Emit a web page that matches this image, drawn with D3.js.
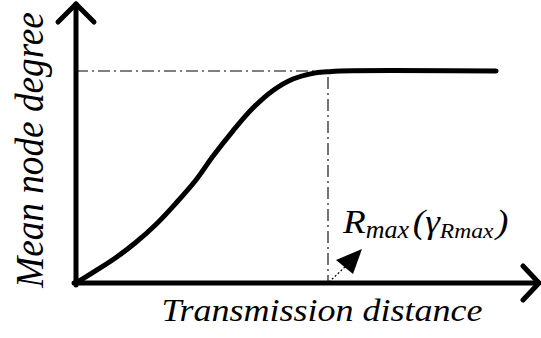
<!DOCTYPE html>
<html>
<head>
<meta charset="utf-8">
<script src="https://cdn.jsdelivr.net/npm/d3@7"></script>
<style>
  body { margin: 0; background: #fff; }
</style>
</head>
<body>
<svg id="chart" width="541" height="338"></svg>
<script>
// curve, x in units of Rmax, y in units of the plateau degree
var distance = [0, 0.079, 0.159, 0.238, 0.317, 0.397, 0.476, 0.544, 0.623, 0.702, 0.782, 0.861, 0.940, 0.996, 1.048, 1.667];
var degree   = [0, 0.058, 0.120, 0.192, 0.276, 0.377, 0.486, 0.599, 0.718, 0.825, 0.908, 0.962, 0.989, 0.996, 1.0, 1.0];
var rmax = 1;       // where the curve levels off
var plateau = 1;    // mean node degree at that point
var xLabel = "Transmission distance";
var yLabel = "Mean node degree";

var FONT = "Liberation Serif";

var svg = d3.select("#chart");

var x = d3.scaleLinear().domain([0, 1]).range([76, 328]);
var y = d3.scaleLinear().domain([0, 1]).range([283, 71]);

var x0 = x(0), y0 = y(0);
var xEnd = 539, yEnd = 4;

// reference lines (dash dot)
svg.append("line")
  .attr("x1", x0).attr("x2", x(rmax) - 6)
  .attr("y1", y(plateau)).attr("y2", y(plateau))
  .attr("stroke", "#000").attr("stroke-width", 1.1)
  .attr("stroke-dasharray", "12,4,2,4");
svg.append("line")
  .attr("x1", x(rmax)).attr("x2", x(rmax))
  .attr("y1", y(plateau) + 6).attr("y2", y0)
  .attr("stroke", "#000").attr("stroke-width", 1.1)
  .attr("stroke-dasharray", "12,4,2,4");

// axes with open arrow heads
var axes = svg.append("g").attr("stroke", "#000").attr("stroke-width", 5)
  .attr("fill", "none").attr("stroke-linecap", "round").attr("stroke-linejoin", "round");
axes.append("line").attr("x1", x0).attr("y1", y0 + 2).attr("x2", x0).attr("y2", yEnd);
axes.append("polyline").attr("points", [[x0 - 18, yEnd + 18], [x0, yEnd], [x0 + 18, yEnd + 18]].join(" "));
axes.append("line").attr("x1", x0 - 2).attr("y1", y0).attr("x2", xEnd).attr("y2", y0);
axes.append("polyline").attr("points", [[xEnd - 16, y0 - 17], [xEnd, y0], [xEnd - 16, y0 + 17]].join(" "));

// curve
var pts = distance.map(function(d, i) { return [d, degree[i]]; });
var line = d3.line()
  .x(function(d) { return x(d[0]); })
  .y(function(d) { return y(d[1]); })
  .curve(d3.curveCatmullRom.alpha(0.5));
svg.append("path")
  .datum(pts)
  .attr("d", line)
  .attr("fill", "none").attr("stroke", "#000").attr("stroke-width", 5)
  .attr("stroke-linecap", "round");

// pointer from Rmax to its label
svg.append("line")
  .attr("x1", x(rmax) + 1).attr("y1", y0 - 1)
  .attr("x2", x(rmax) + 18).attr("y2", y0 - 17)
  .attr("stroke", "#000").attr("stroke-width", 1.2)
  .attr("stroke-dasharray", "2,2");
svg.append("polygon")
  .attr("points", [[x(rmax) + 34, y0 - 34], [x(rmax) + 8, y0 - 23], [x(rmax) + 25, y0 - 9]].join(" "))
  .attr("fill", "#000");

// labels: 30px text, scaled up to the size in the picture
var rl = svg.append("text")
  .attr("transform", "translate(343,233) scale(1.24,1.15)")
  .attr("font-family", FONT).attr("font-style", "italic").attr("font-size", 30);
rl.append("tspan").text("R");
rl.append("tspan").attr("font-size", 21).attr("dy", 4).text("max");
rl.append("tspan").attr("dy", -4).attr("dx", 3).text("(");
rl.append("tspan").text("\u03b3");
rl.append("tspan").attr("font-size", 19).attr("dy", 4).text("Rmax");
rl.append("tspan").attr("dy", -4).attr("dx", 2).text(")");

svg.append("text")
  .attr("transform", "translate(322,321) scale(1.067)")
  .attr("text-anchor", "middle")
  .attr("font-family", FONT).attr("font-style", "italic")
  .attr("font-size", 30)
  .attr("textLength", 301).attr("lengthAdjust", "spacingAndGlyphs")
  .text(xLabel);

svg.append("text")
  .attr("transform", "translate(43,150) rotate(-90) scale(1.3)")
  .attr("text-anchor", "middle")
  .attr("font-family", FONT).attr("font-style", "italic")
  .attr("font-size", 30)
  .attr("textLength", 212).attr("lengthAdjust", "spacingAndGlyphs")
  .text(yLabel);
</script>
</body>
</html>
